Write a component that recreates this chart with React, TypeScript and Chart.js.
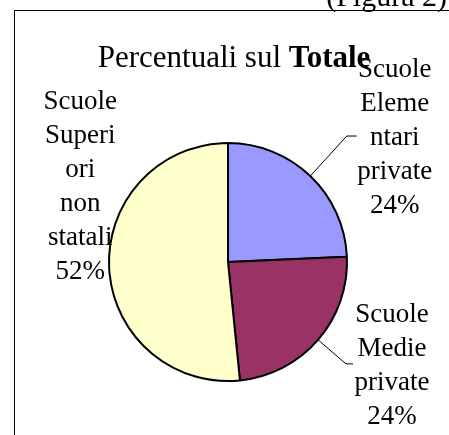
import React, { useEffect, useRef } from "react";
import { Chart, registerables } from "chart.js";

Chart.register(...registerables);

const figureCaption = "(Figura 2)";
const titleNormal = "Percentuali sul ";
const titleBold = "Totale";
const categories = [
  "Scuole Elementari private",
  "Scuole Medie private",
  "Scuole Superiori non statali",
];
const values = [24.3, 24.1, 51.6];
const sliceColors = ["#9999FF", "#993366", "#FFFFCC"];

// label placement relative to each slice's outer edge point at its mid angle
const labelPlacement = [
  { dx: 84.5, dy: -99, leader: [[36.5, -40], [46.5, -40]] },
  { dx: 74, dy: -18, leader: [[28, 24], [35, 24]] },
  { dx: -29, dy: -159, leader: null as null | number[][] },
];

const FONT = '"Liberation Serif", "Times New Roman", serif';
const LABEL_SIZE = 27;
const TITLE_SIZE = 31;
const LINE_H = 34;
const WRAP_W = 76;

function wrapText(ctx: CanvasRenderingContext2D, text: string, maxW: number): string[] {
  const words = text.split(" ");
  const lines: string[] = [];
  let cur = "";
  for (const w of words) {
    const trial = cur ? cur + " " + w : w;
    if (ctx.measureText(trial).width <= maxW) {
      cur = trial;
      continue;
    }
    if (cur) lines.push(cur);
    cur = "";
    if (ctx.measureText(w).width <= maxW) {
      cur = w;
    } else {
      let piece = "";
      for (const ch of w) {
        if (ctx.measureText(piece + ch).width <= maxW) piece += ch;
        else {
          lines.push(piece);
          piece = ch;
        }
      }
      cur = piece;
    }
  }
  if (cur) lines.push(cur);
  return lines;
}

const decorPlugin = {
  id: "decor",
  afterDraw(chart: any) {
    const ctx: CanvasRenderingContext2D = chart.ctx;
    const meta = chart.getDatasetMeta(0);
    const total = values.reduce((a, b) => a + b, 0);
    ctx.save();
    // frame
    ctx.strokeStyle = "#000";
    ctx.lineWidth = 1;
    ctx.beginPath();
    ctx.moveTo(14.5, chart.height);
    ctx.lineTo(14.5, 10.5);
    ctx.lineTo(chart.width, 10.5);
    ctx.stroke();
    // caption
    ctx.fillStyle = "#000";
    ctx.textBaseline = "alphabetic";
    ctx.font = `30px ${FONT}`;
    ctx.textAlign = "right";
    ctx.fillText(figureCaption, chart.width - 2, 6);
    // title
    const cx = meta.data[0].x + 6;
    ctx.textAlign = "left";
    ctx.font = `${TITLE_SIZE}px ${FONT}`;
    const w1 = ctx.measureText(titleNormal).width;
    ctx.font = `bold ${TITLE_SIZE}px ${FONT}`;
    const w2 = ctx.measureText(titleBold).width;
    const sx = cx - (w1 + w2) / 2;
    ctx.font = `${TITLE_SIZE}px ${FONT}`;
    ctx.fillText(titleNormal, sx, 67);
    ctx.font = `bold ${TITLE_SIZE}px ${FONT}`;
    ctx.fillText(titleBold, sx + w1, 67);
    // labels
    ctx.font = `${LABEL_SIZE}px ${FONT}`;
    ctx.textAlign = "center";
    meta.data.forEach((arc: any, i: number) => {
      const mid = (arc.startAngle + arc.endAngle) / 2;
      const ex = arc.x + arc.outerRadius * Math.cos(mid);
      const ey = arc.y + arc.outerRadius * Math.sin(mid);
      const p = labelPlacement[i];
      if (p.leader) {
        ctx.beginPath();
        ctx.lineWidth = 1;
        ctx.moveTo(ex, ey);
        p.leader.forEach(([lx, ly]) => ctx.lineTo(ex + lx, ey + ly));
        ctx.stroke();
      }
      const pct = Math.round((values[i] / total) * 100) + "%";
      const lines = [...wrapText(ctx, categories[i], WRAP_W), pct];
      lines.forEach((ln, k) => {
        ctx.fillText(ln, ex + p.dx, ey + p.dy + k * LINE_H);
      });
    });
    ctx.restore();
  },
};

export default function App() {
  const ref = useRef<HTMLCanvasElement>(null);
  useEffect(() => {
    if (!ref.current) return;
    const chart = new Chart(ref.current, {
      type: "pie",
      data: {
        labels: categories,
        datasets: [
          {
            data: values,
            backgroundColor: sliceColors,
            borderColor: "#000",
            borderWidth: 2,
            radius: 119,
          } as any,
        ],
      },
      options: {
        responsive: false,
        animation: false,
        layout: { padding: { left: 109, right: 102, top: 143, bottom: 54 } },
        plugins: {
          legend: { display: false },
          tooltip: { enabled: false },
          title: { display: false },
        },
      },
      plugins: [decorPlugin],
    });
    return () => chart.destroy();
  }, []);
  return (
    <div style={{ position: "fixed", left: 0, top: 0, width: 449, height: 435, background: "#fff" }}>
      <canvas ref={ref} width={449} height={435} style={{ display: "block" }} />
    </div>
  );
}
